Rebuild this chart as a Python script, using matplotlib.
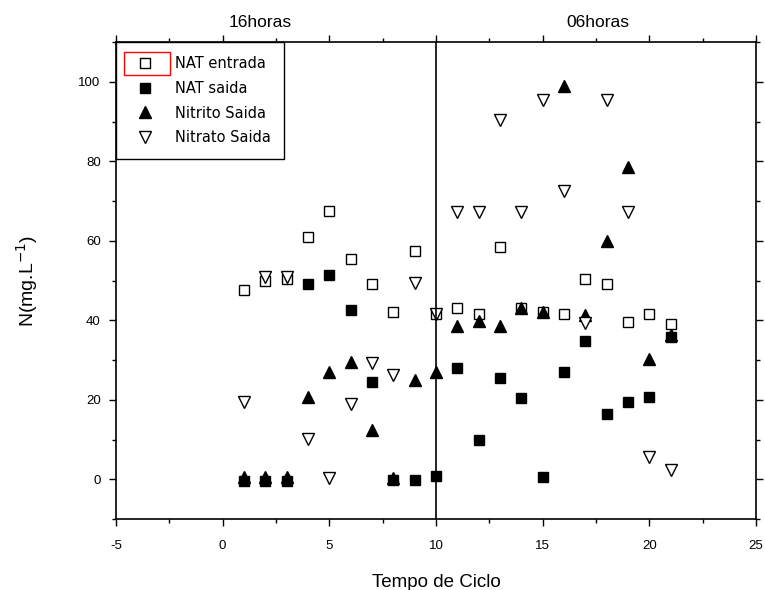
import numpy as np
import matplotlib.pyplot as plt
from matplotlib.patches import Rectangle
from matplotlib.ticker import MultipleLocator

plt.rcParams['font.family'] = ['Liberation Sans', 'DejaVu Sans']
plt.rcParams['axes.unicode_minus'] = False

# Ciclos de operação
ciclo = np.arange(1, 22)

# Concentrações (mg/L)
nat_entrada = [47.5, 50, 50.5, 61, 67.5, 55.5, 49, 42, 57.5, 41.5, 43,
               41.5, 58.5, 43, 42, 41.5, 50.5, 49, 39.5, 41.5, 39]
nat_saida = [-0.5, -0.5, -0.5, 49, 51.5, 42.5, 24.5, -0.3, -0.3, 0.8, 28,
             10, 25.5, 20.5, 0.6, 27, 34.8, 16.5, 19.5, 20.7, 35.8]
nitrito_saida = [0.5, 0.5, 0.5, 20.8, 27, 29.4, 12.3, 0.2, 25, 27, 38.5,
                 39.8, 38.5, 43, 42, 99, 41.3, 60, 78.5, 30.2, 36.2]
nitrato_saida = [19.5, 51, 51, 10.2, 0.4, 18.9, 29.2, 26.2, 49.5, 41.5, 67.3,
                 67.3, 90.3, 67.3, 95.5, 72.6, 39.2, 95.5, 67.3, 5.5, 2.4]

fig = plt.figure(figsize=(7.65, 5.9), dpi=100)
ax = fig.add_axes([0.1516, 0.1203, 0.8366, 0.8085])

ax.plot(ciclo, nat_entrada, 's', ms=6.5, mfc='white', mec='black', mew=1,
        ls='none', label='NAT entrada')
ax.plot(ciclo, nat_saida, 's', ms=6.5, color='black', ls='none',
        label='NAT saida')
ax.plot(ciclo, nitrito_saida, '^', ms=8, color='black', ls='none',
        label='Nitrito Saida')
ax.plot(ciclo, nitrato_saida, 'v', ms=8, mfc='white', mec='black', mew=1,
        ls='none', label='Nitrato Saida')

# separação entre os dois regimes de ciclo
ax.axvline(10, color='black', lw=1.2)

ax.set_xlim(-5, 25)
ax.set_ylim(-10, 110)
ax.xaxis.set_major_locator(MultipleLocator(5))
ax.xaxis.set_minor_locator(MultipleLocator(2.5))
ax.yaxis.set_major_locator(MultipleLocator(20))
ax.yaxis.set_minor_locator(MultipleLocator(10))
ax.tick_params(which='both', direction='out', top=True, right=True,
               labelsize=9.5, width=1)
ax.tick_params(which='major', length=5)
ax.tick_params(which='minor', length=3)
ax.tick_params(axis='x', pad=10)
ax.tick_params(axis='y', pad=6)
for s in ax.spines.values():
    s.set_linewidth(1.2)

ax.set_xlabel('Tempo de Ciclo', fontsize=13.5, labelpad=16)
ax.set_ylabel('N(mg.L$^{-1}$)', fontsize=14, labelpad=28)

fig.text(0.34, 0.962, '16horas', fontsize=12.5, ha='center', va='center')
fig.text(0.782, 0.962, '06horas', fontsize=12.5, ha='center', va='center')

leg = ax.legend(loc='upper left', borderaxespad=0, fancybox=False,
                edgecolor='black', handlelength=2.1, handletextpad=1.0,
                borderpad=0.94, labelspacing=0.68,
                prop={'family': 'DejaVu Sans', 'size': 10.5})
leg.get_frame().set_linewidth(1)
leg.get_frame().set_alpha(1)

# marcação da entrada selecionada na legenda
fig.patches.append(Rectangle((0.162, 0.873), 0.060, 0.039, fill=False,
                             edgecolor='red', lw=1,
                             transform=fig.transFigure, zorder=10))

fig.savefig('out.png', dpi=100)
